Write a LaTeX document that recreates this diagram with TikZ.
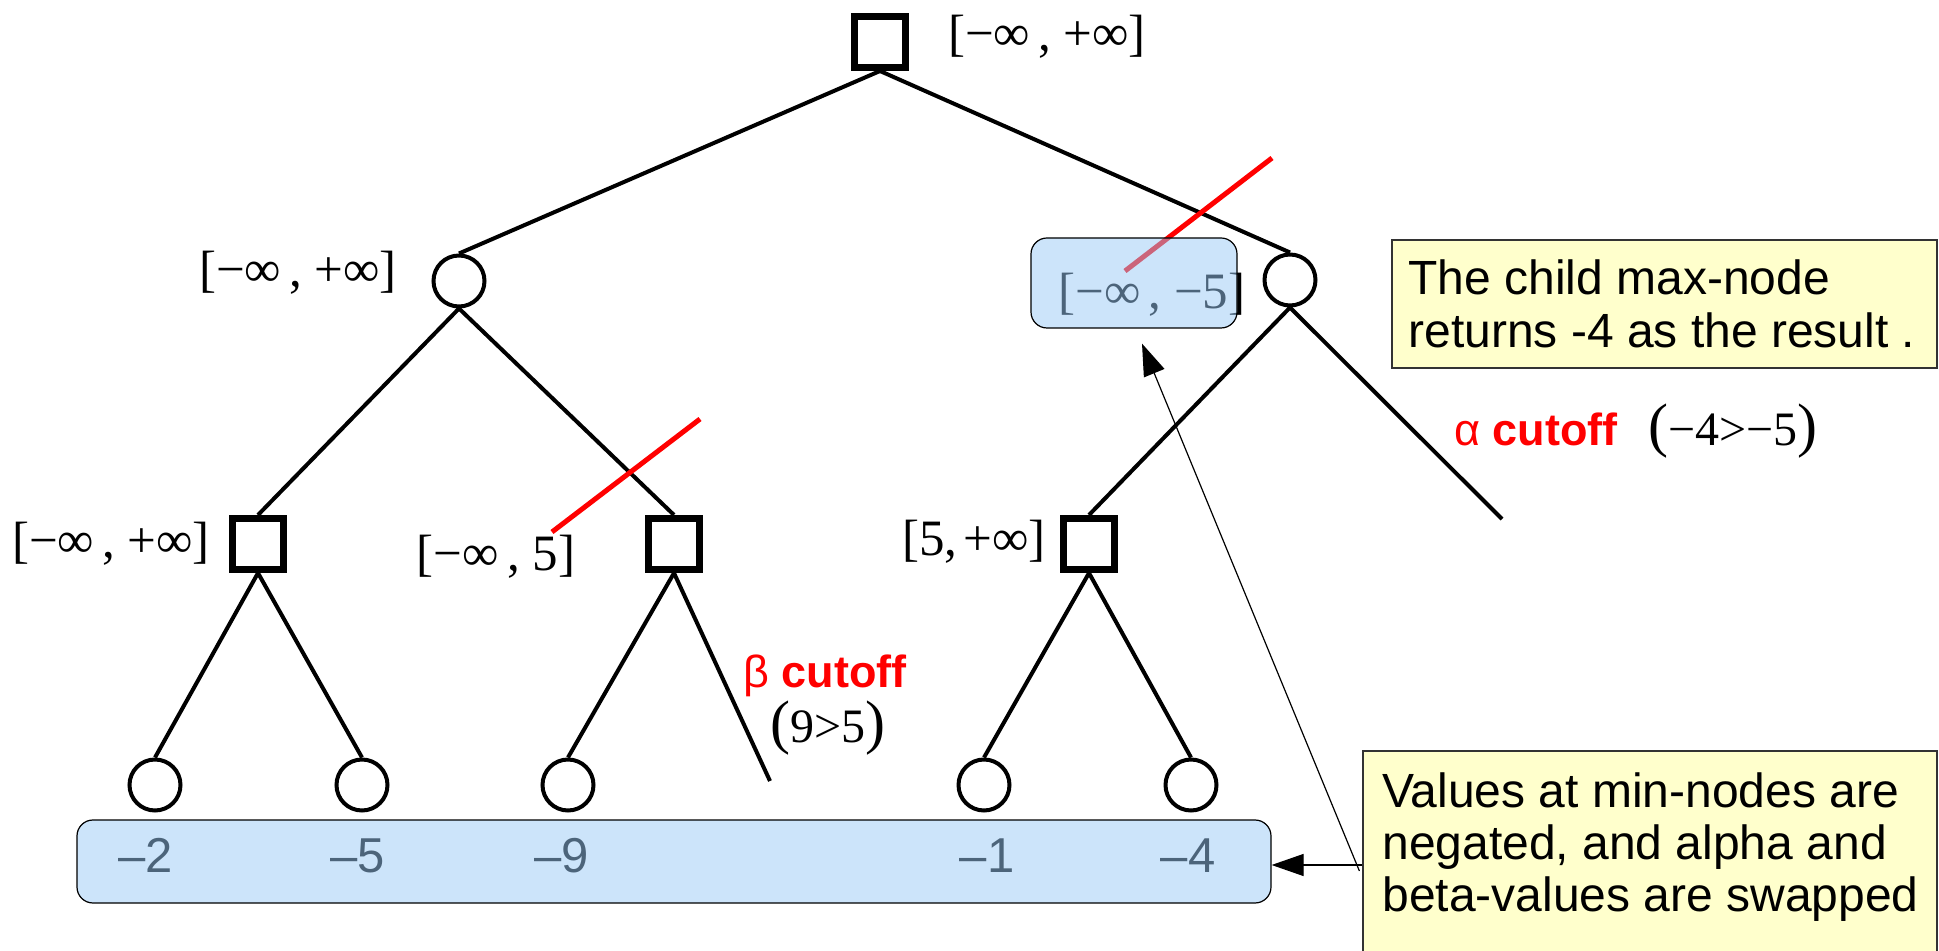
\documentclass[tikz,border=0pt]{standalone}
\usepackage{fontspec}
\setmainfont{Liberation Serif}
\setsansfont{Liberation Sans}
\usetikzlibrary{arrows.meta}
\definecolor{boxblue}{RGB}{153,201,245}
\definecolor{noteyellow}{RGB}{255,255,204}
\newcommand\bigp[1]{{\fontsize{30}{30}\selectfont #1}}
\begin{document}
\begin{tikzpicture}[x=0.5pt,y=-0.5pt,
  maxnode/.style={draw, line width=3.5pt, minimum width=25.5pt, minimum height=25.5pt, inner sep=0pt, fill=white},
  minnode/.style={draw, circle, line width=2pt, minimum size=25.5pt, inner sep=0pt, fill=white},
  treeedge/.style={line width=2pt},
  cut/.style={red, line width=2.5pt},
  lab/.style={font=\fontsize{25.5}{29}\selectfont, inner sep=0pt},
  cond/.style={font=\fontsize{24}{28}\selectfont, inner sep=0pt},
  cutlab/.style={font=\sffamily\fontsize{22.5}{26}\selectfont, text=red, inner sep=0pt},
  num/.style={font=\sffamily\fontsize{24.5}{28}\selectfont, inner sep=0pt},
  overlay box/.style={draw, line width=0.6pt, rounded corners=8pt, fill=boxblue, fill opacity=0.5, inner sep=0pt},
  note/.style={draw=black!80, line width=0.6pt, fill=noteyellow, inner sep=0pt},
  notetext/.style={anchor=north west, inner sep=0pt, align=left},
  arr/.style={line width=0.6pt, -{Triangle[length=16pt,width=11pt]}}
]
\useasboundingbox (0,0) rectangle (1939,951);

% tree nodes
\node[maxnode] (r) at (880,42) {};
\node[minnode] (a) at (459,281) {};
\node[minnode] (b) at (1290,280) {};
\node[maxnode] (a1) at (258,544) {};
\node[maxnode] (a2) at (674,544) {};
\node[maxnode] (b1) at (1089,544) {};
\node[minnode] (l1) at (155,785) {};
\node[minnode] (l2) at (362,785) {};
\node[minnode] (l3) at (568,785) {};
\node[minnode] (l4) at (984,785) {};
\node[minnode] (l5) at (1191,785) {};
\coordinate (cb) at (1502,519);
\coordinate (ca) at (770,781);

% edges
\draw[treeedge] (r.south) -- (a.north);
\draw[treeedge] (r.south) -- (b.north);
\draw[treeedge] (a.south) -- (a1.north);
\draw[treeedge] (a.south) -- (a2.north);
\draw[treeedge] (b.south) -- (b1.north);
\draw[treeedge] (b.south) -- (cb);
\draw[treeedge] (a1.south) -- (l1.north);
\draw[treeedge] (a1.south) -- (l2.north);
\draw[treeedge] (a2.south) -- (l3.north);
\draw[treeedge] (a2.south) -- (ca);
\draw[treeedge] (b1.south) -- (l4.north);
\draw[treeedge] (b1.south) -- (l5.north);

% interval labels
\node[lab] (rl) at (1047,37) {[−∞\kern4pt, +∞]};
\node[lab] (al) at (298,273) {[−∞\kern4pt, +∞]};
\node[lab] (a1l) at (111,544) {[−∞\kern4pt, +∞]};
\node[lab] (a2l) at (496,557) {[−∞\kern4pt, 5]};
\node[lab] (b1l) at (974,542) {[5,\kern3pt+∞]};
\node[lab] (bl) at (1152,295) {[−∞\kern4pt, −5]};

% cutoff labels
\node[cutlab] (beta) at (825,676) {β \textbf{cutoff}};
\node[cond] (betac) at (828,728) {\bigp{(}9>5\bigp{)}};
\node[cutlab] (alpha) at (1536,429) {α \textbf{cutoff}};
\node[cond] (alphac) at (1733,431) {\bigp{(}−4>−5\bigp{)}};

% leaf values
\node[num] (n1) at (146,855.5) {–2};
\node[num] (n2) at (358,855.5) {–5};
\node[num] (n3) at (562,855.5) {–9};
\node[num] (n4) at (987,855.5) {–1};
\node[num] (n5) at (1188,855.5) {–4};

% cut marks
\coordinate (c1a) at (1272,158);
\coordinate (c1b) at (1125,271);
\coordinate (c2a) at (700,419);
\coordinate (c2b) at (552,532);
\draw[cut] (c1a) -- (c1b);
\draw[cut] (c2a) -- (c2b);

% translucent highlight boxes
\node[overlay box, minimum width=103pt, minimum height=45pt] (tbox) at (1134,283) {};
\node[overlay box, minimum width=597pt, minimum height=41.5pt] (bbox) at (674,861.5) {};

% notes
\node[note, minimum width=272.5pt, minimum height=64pt] (ytop) at (1664.5,304) {};
\node[notetext, font=\sffamily\fontsize{24}{26.5}\selectfont] (ttop) at (1408,259) {The child max-node\\returns -4 as the result .};
\node[note, minimum width=287pt, minimum height=104pt] (ybot) at (1650,855) {};
\node[notetext, font=\sffamily\fontsize{24}{26.2}\selectfont] (tbot) at (1382,772) {Values at min-nodes are\\negated, and alpha and\\beta-values are swapped};

% arrows
\coordinate (hy) at (0,865);
\draw[arr] (ybot.west |- hy) -- (bbox.east |- hy);
\draw[arr] ([shift={(-3,16)}]ybot.west) -- ([shift={(8,15)}]tbox.south);
\end{tikzpicture}
\end{document}
